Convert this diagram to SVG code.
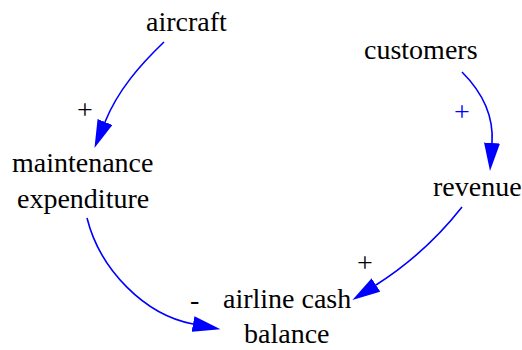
<svg xmlns="http://www.w3.org/2000/svg" width="522" height="350" viewBox="0 0 522 350">
<defs>
<marker id="ah" viewBox="0 0 28 16" refX="0" refY="8" markerWidth="28" markerHeight="16" markerUnits="userSpaceOnUse" orient="auto">
<path d="M0,0 L28,8 L0,16 Z" fill="#0000ff"/>
</marker>
</defs>
<rect width="522" height="350" fill="#fff"/>
<g id="connectors">
<path d="M164,42 C140,65 118,90 105,122" fill="none" stroke="#0000ff" stroke-width="1.6" marker-end="url(#ah)"/>
<path d="M462,72 C482,92 494,115 492,143" fill="none" stroke="#0000ff" stroke-width="1.6" marker-end="url(#ah)"/>
<path d="M462,207 C440,235 412,262 376,285" fill="none" stroke="#0000ff" stroke-width="1.6" marker-end="url(#ah)"/>
<path d="M87,218 C100,270 145,315 193,324" fill="none" stroke="#0000ff" stroke-width="1.6" marker-end="url(#ah)"/>
<text x="77" y="119" font-size="28" font-family="Liberation Serif">+</text>
<text x="454" y="121" font-size="28" font-family="Liberation Serif" fill="#0000ff">+</text>
<text x="357" y="272" font-size="28" font-family="Liberation Serif">+</text>
<text x="190" y="309" font-size="28" font-family="Liberation Serif">-</text>
</g>
<g id="aircraft"><text x="146" y="31" font-size="28" font-family="Liberation Serif">aircraft</text></g>
<g id="customers"><text x="364" y="59" font-size="28" font-family="Liberation Serif">customers</text></g>
<g id="maintenance"><text x="12" y="172" font-size="28" font-family="Liberation Serif">maintenance</text><text x="17" y="208" font-size="28" font-family="Liberation Serif">expenditure</text></g>
<g id="revenue"><text x="433" y="196" font-size="28" font-family="Liberation Serif">revenue</text></g>
<g id="cash"><text x="223" y="308" font-size="28" font-family="Liberation Serif">airline cash</text><text x="244" y="343" font-size="28" font-family="Liberation Serif">balance</text></g>
</svg>
